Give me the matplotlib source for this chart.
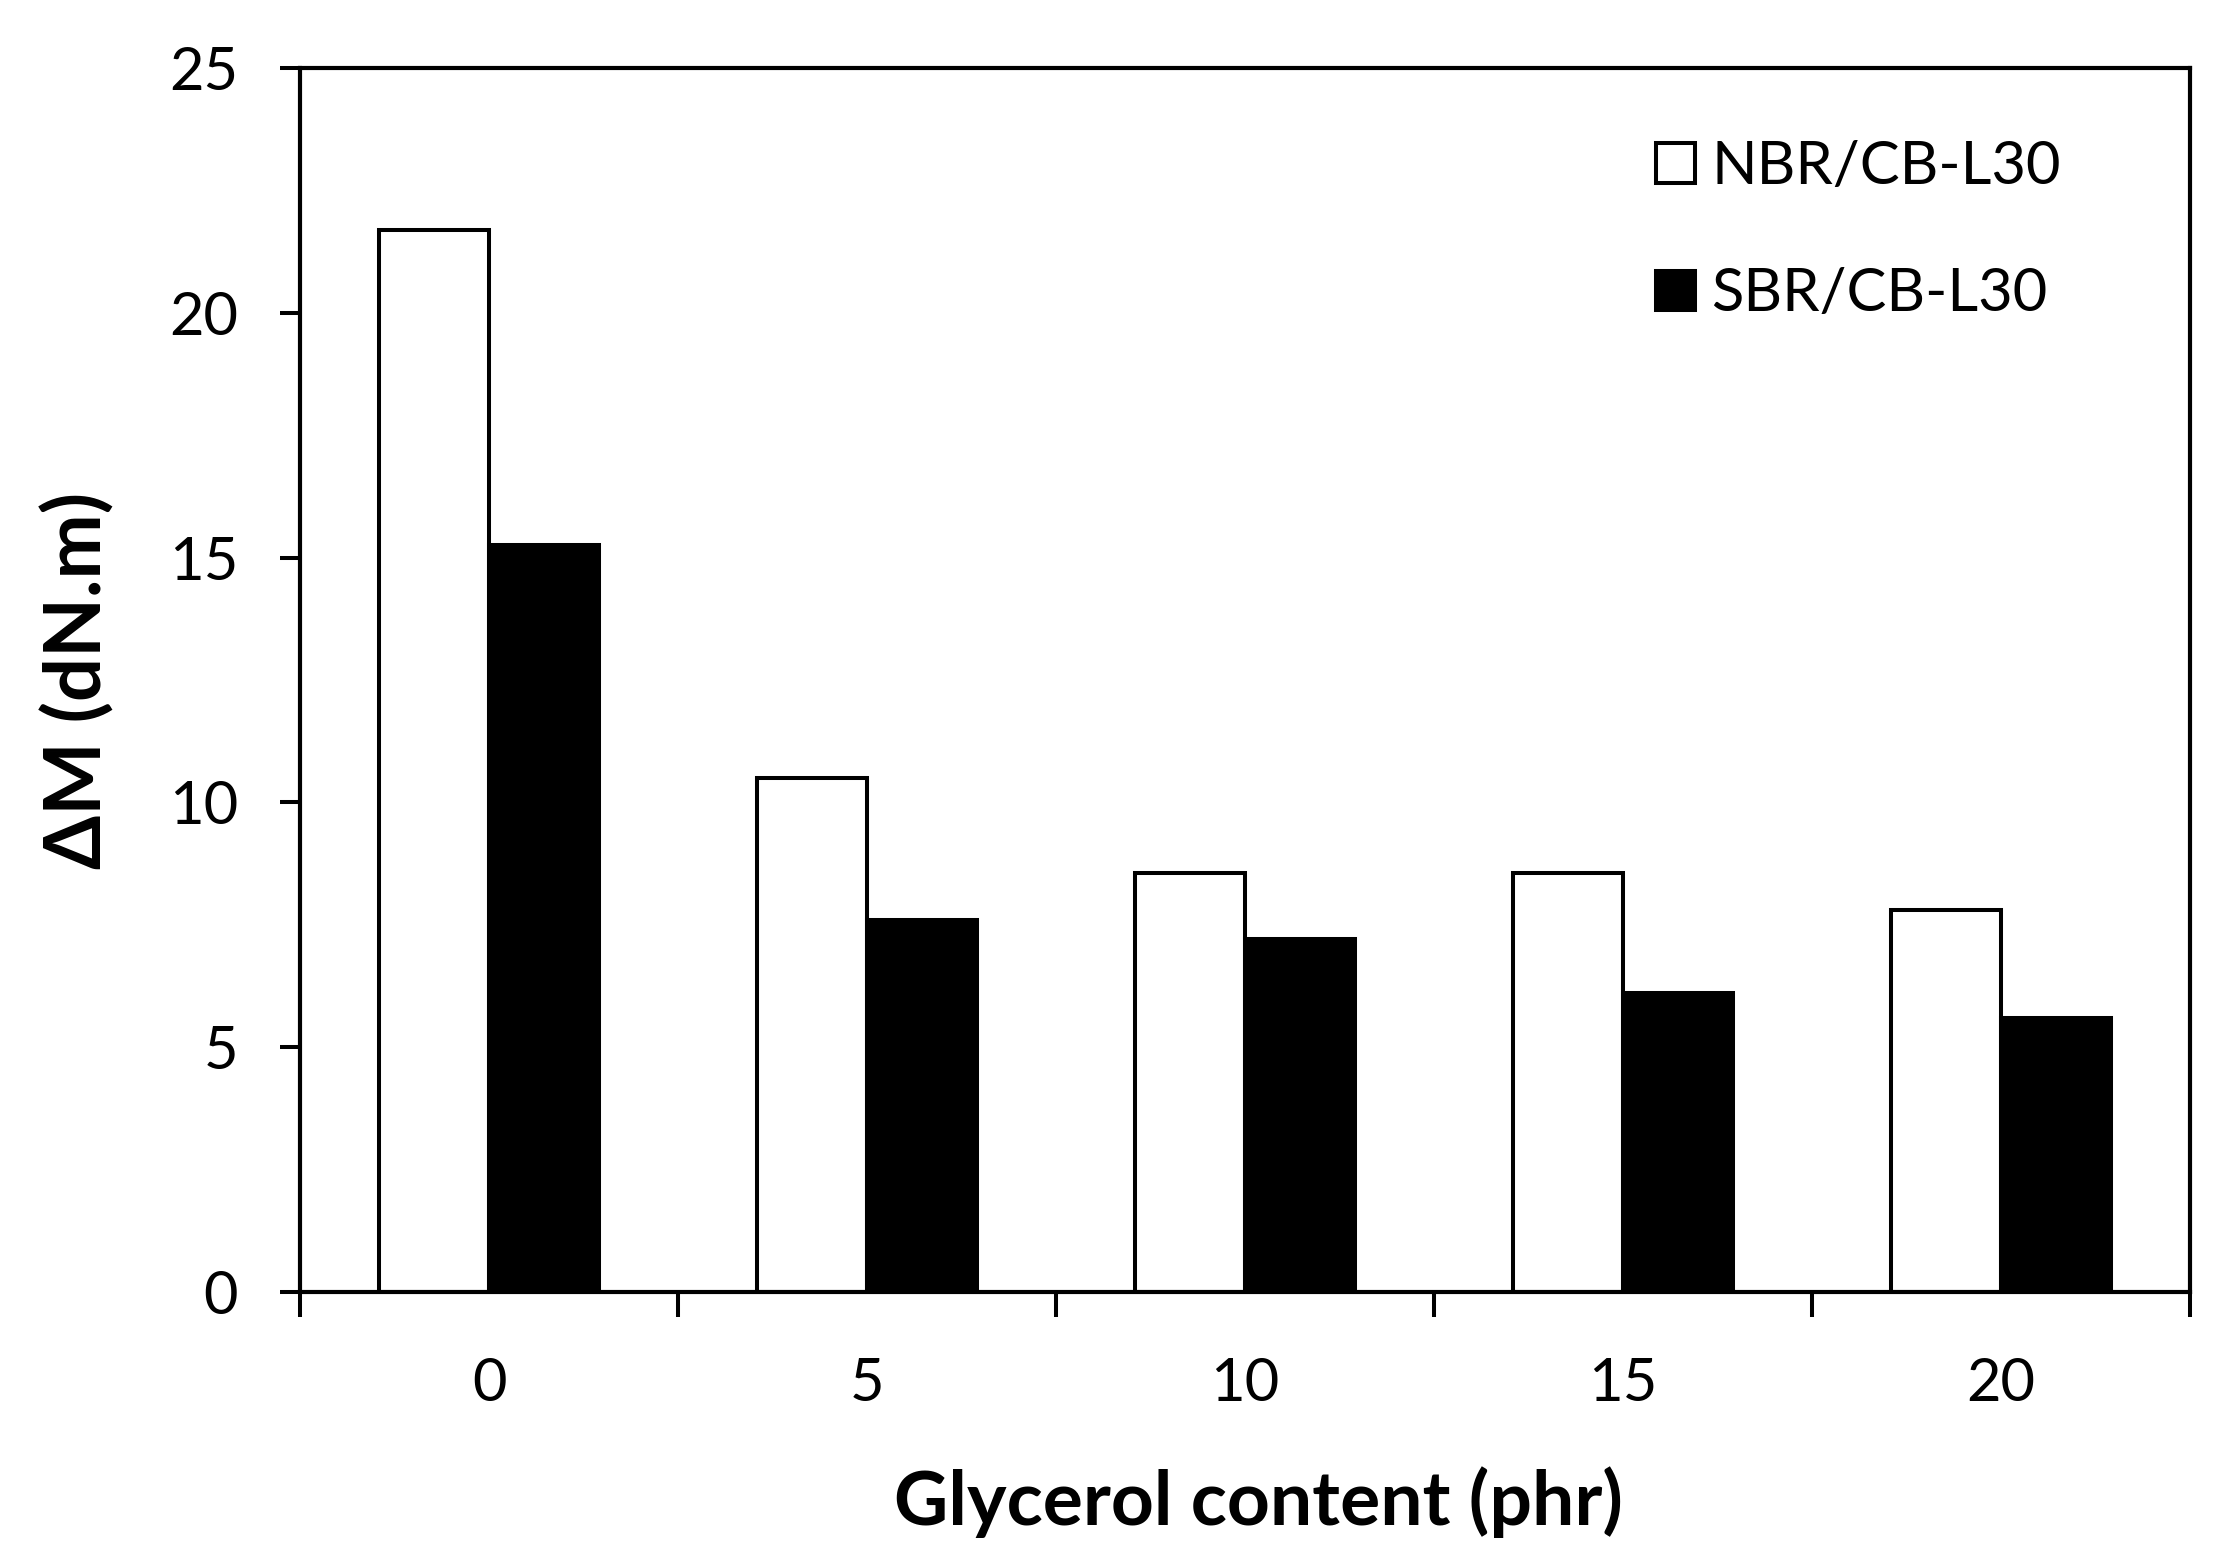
import matplotlib
matplotlib.use("Agg")
import matplotlib.pyplot as plt
import numpy as np
from matplotlib.patches import Patch
from matplotlib.ticker import FixedLocator, NullFormatter

categories = ["0", "5", "10", "15", "20"]
nbr_values = [21.7, 10.5, 8.55, 8.55, 7.8]
sbr_values = [15.25, 7.6, 7.2, 6.1, 5.6]
series_names = ["NBR/CB-L30", "SBR/CB-L30"]
y_ticks = [0, 5, 10, 15, 20, 25]

plt.rcParams['font.family'] = ['Lato', 'DejaVu Sans']

fig = plt.figure(figsize=(22.34, 15.64), dpi=100)
ax = fig.add_axes([300/2234, 1 - 1292/1564, 1890/2234, (1292-68)/1564])

x = np.arange(len(categories))
w = 0.29
lw = 2.9
ax.bar(x - w/2, nbr_values, w, facecolor='white', edgecolor='black', linewidth=lw, zorder=2)
ax.bar(x + w/2, sbr_values, w, facecolor='black', edgecolor='black', linewidth=lw, zorder=3)

ax.set_xlim(-0.5, len(categories) - 0.5)
ax.set_ylim(0, 25)

for s in ax.spines.values():
    s.set_linewidth(3.0)

ax.set_yticks(y_ticks)
ax.tick_params(axis='y', direction='out', length=14.5, width=2.9, labelsize=43, pad=30)

ax.xaxis.set_major_locator(FixedLocator(np.arange(-0.5, len(categories), 1.0)))
ax.xaxis.set_major_formatter(NullFormatter())
ax.xaxis.set_minor_locator(FixedLocator(x))
ax.set_xticklabels(categories, minor=True)
ax.tick_params(axis='x', which='major', direction='out', length=18, width=2.9)
ax.tick_params(axis='x', which='minor', length=0, labelsize=43, pad=47)

ax.set_xlabel("Glycerol content (phr)", fontsize=54, fontweight='bold')
ax.xaxis.set_label_coords(0.507, -0.1425)
ax.set_ylabel("ΔM (dN.m)", fontsize=56, fontweight='bold', labelpad=38)

handles = [Patch(facecolor='white', edgecolor='black', linewidth=2.9),
           Patch(facecolor='black', edgecolor='black', linewidth=2.9)]
leg = ax.legend(handles, series_names, loc='upper left',
                bbox_to_anchor=(1656/2234, 1 - 140/1564), bbox_transform=fig.transFigure,
                frameon=False, fontsize=43, handlelength=0.65, handleheight=0.65,
                handletextpad=0.28, labelspacing=1.23, borderpad=0, borderaxespad=0)

fig.savefig("out.png", dpi=100)
